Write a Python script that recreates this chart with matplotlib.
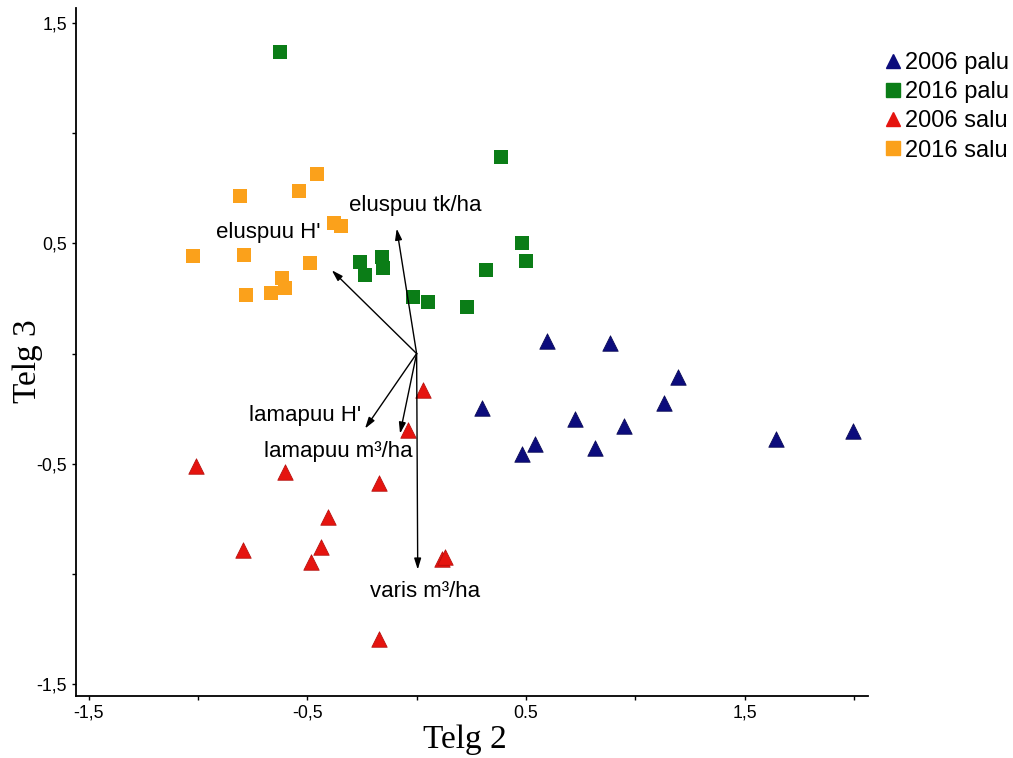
#!/usr/bin/python3

import matplotlib
matplotlib.use("Agg")
import matplotlib.pyplot as plt
from matplotlib.lines import Line2D

#data: ordination scores (Telg 2, Telg 3)
palu06_x = [0.597, 0.883, 1.196, 0.297, 1.130, 0.723, 0.947, 0.541, 0.480, 0.814, 1.644, 1.994]
palu06_y = [0.058, 0.046, -0.108, -0.249, -0.223, -0.298, -0.329, -0.412, -0.457, -0.430, -0.389, -0.351]

palu16_x = [-0.626, 0.384, 0.484, 0.498, 0.315, -0.260, -0.238, -0.160, -0.155, -0.018, 0.050, 0.229]
palu16_y = [1.367, 0.891, 0.501, 0.420, 0.379, 0.415, 0.356, 0.438, 0.388, 0.256, 0.234, 0.211]

salu06_x = [-1.010, -0.603, 0.031, -0.038, -0.172, -0.404, -0.794, -0.439, -0.484, 0.114, 0.130, -0.174]
salu06_y = [-0.509, -0.536, -0.166, -0.347, -0.589, -0.740, -0.889, -0.876, -0.944, -0.934, -0.923, -1.295]

salu16_x = [-1.024, -0.809, -0.791, -0.782, -0.667, -0.617, -0.603, -0.539, -0.457, -0.489, -0.379, -0.347]
salu16_y = [0.442, 0.714, 0.447, 0.265, 0.274, 0.342, 0.297, 0.737, 0.814, 0.410, 0.592, 0.578]

#environmental vectors
vec_names = ["eluspuu tk/ha", "eluspuu H'", "lamapuu H'", "lamapuu m³/ha", "varis m³/ha"]
vec_x = [-0.091, -0.388, -0.236, -0.076, 0.005]
vec_y = [0.567, 0.378, -0.340, -0.363, -0.980]

#label positions of the vectors
lab_x = [-0.008, -0.679, -0.512, -0.357, 0.037]
lab_y = [0.673, 0.551, -0.283, -0.445, -1.080]

xticks = [-1.5, -1.0, -0.5, 0.0, 0.5, 1.0, 1.5, 2.0]
xticklabels = ["-1,5", "", "-0,5", "", "0.5", "", "1,5", ""]
yticks = [-1.5, -1.0, -0.5, 0.0, 0.5, 1.0, 1.5]
yticklabels = ["-1,5", "", "-0,5", "", "0,5", "", "1,5"]

groups = ["2006 palu", "2016 palu", "2006 salu", "2016 salu"]

#_____________________________________________________________________________
def main():

    plt.rcParams["font.family"] = ["Liberation Sans", "DejaVu Sans"]

    fig = plt.figure(figsize=(10.13, 7.58), dpi=100)
    ax = fig.add_axes([0.075, 0.0822, 0.782, 0.907])

    col_navy = "#0c0c7c"
    col_green = "#0b7d17"
    col_red = "#e5140f"
    col_orange = "#fba11b"

    tri = 125
    sq = 115

    ax.scatter(palu06_x, palu06_y, s=tri, marker="^", color=col_navy, edgecolor="#06064f", lw=0.5, zorder=3)
    ax.scatter(palu16_x, palu16_y, s=sq, marker="s", color=col_green, lw=0, zorder=3)
    ax.scatter(salu06_x, salu06_y, s=tri, marker="^", color=col_red, edgecolor="#b00c0a", lw=0.5, zorder=3)
    ax.scatter(salu16_x, salu16_y, s=sq, marker="s", color=col_orange, lw=0, zorder=3)

    #vectors
    for i in range(len(vec_names)):
        ax.annotate("", xy=(vec_x[i], vec_y[i]), xytext=(0, 0),
            arrowprops=dict(arrowstyle="-|>,head_length=0.55,head_width=0.17",
            mutation_scale=12, lw=1.0, color="black", shrinkA=0, shrinkB=0), zorder=4)
        ax.text(lab_x[i], lab_y[i], vec_names[i], fontsize=16, ha="center", va="center", zorder=5)

    ax.set_xlim(-1.558, 2.065)
    ax.set_ylim(-1.552, 1.567)

    ax.set_xticks(xticks)
    ax.set_xticklabels(xticklabels)
    ax.set_yticks(yticks)
    ax.set_yticklabels(yticklabels)
    ax.tick_params(direction="out", length=3, width=1, labelsize=12.8, pad=3.5, colors="black")

    ax.spines["top"].set_visible(False)
    ax.spines["right"].set_visible(False)
    ax.spines["left"].set_linewidth(1.3)
    ax.spines["bottom"].set_linewidth(1.3)

    fig.text(0.459, 0.024, "Telg 2", fontsize=24, family="Liberation Serif", ha="center", va="center")
    fig.text(0.027, 0.524, "Telg 3", fontsize=24, family="Liberation Serif", ha="center", va="center", rotation=90)

    #legend
    handles = [
        Line2D([], [], ls="none", marker="^", ms=10.5, color=col_navy),
        Line2D([], [], ls="none", marker="s", ms=9.5, color=col_green),
        Line2D([], [], ls="none", marker="^", ms=10.5, color=col_red),
        Line2D([], [], ls="none", marker="s", ms=9.5, color=col_orange),
    ]
    fig.legend(handles, groups, loc="upper left", bbox_to_anchor=(0.872, 0.931),
        frameon=False, fontsize=17, handlelength=0.8, handletextpad=0.1,
        labelspacing=0.3, borderpad=0, borderaxespad=0)

    fig.savefig("out.png", dpi=100)
    plt.close()

#main

#_____________________________________________________________________________
if __name__ == "__main__":

    main()
